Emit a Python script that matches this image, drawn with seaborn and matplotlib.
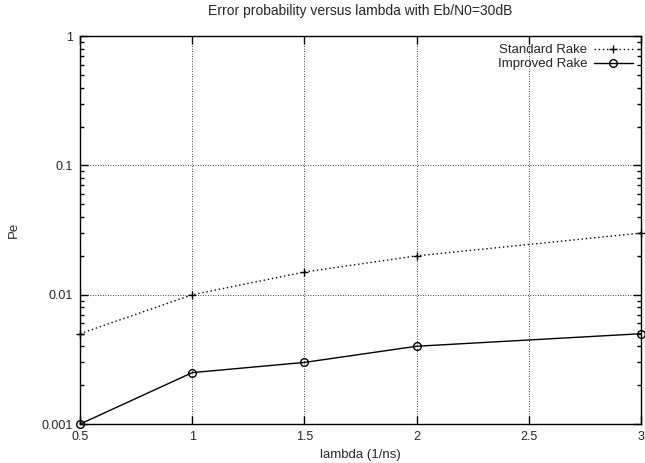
import matplotlib
matplotlib.use("Agg")
import matplotlib.pyplot as plt
import seaborn as sns
import pandas as pd
from matplotlib.ticker import LogLocator, FixedLocator, FixedFormatter

lam = [0.5, 1.0, 1.5, 2.0, 3.0]
pe_standard = [0.005, 0.01, 0.015, 0.02, 0.03]
pe_improved = [0.001, 0.0025, 0.003, 0.004, 0.005]
x_ticks = [0.5, 1, 1.5, 2, 2.5, 3]
x_labels = ["0.5", "1", "1.5", "2", "2.5", "3"]
y_ticks = [0.001, 0.01, 0.1, 1]
y_labels = ["0.001", "0.01", "0.1", "1"]

sns.set_style("ticks")
plt.rcParams["font.family"] = ["Liberation Sans", "DejaVu Sans"]

df = pd.DataFrame({"lambda": lam, "standard": pe_standard, "improved": pe_improved})

fig = plt.figure(figsize=(6.45, 4.63), dpi=100)
ax = fig.add_axes([0.124, 0.084, 0.87, 0.838])

sns.lineplot(data=df, x="lambda", y="standard", ax=ax, color="black", lw=1.0,
             linestyle=(0, (1, 2)), marker="+", markersize=6, markeredgewidth=1.0,
             markeredgecolor="black", label="Standard Rake", clip_on=False)
sns.lineplot(data=df, x="lambda", y="improved", ax=ax, color="black", lw=1.0,
             marker="o", markersize=5.5, markerfacecolor="none", markeredgecolor="black",
             markeredgewidth=1.0, label="Improved Rake", clip_on=False)

ax.set_yscale("log")
ax.set_xlim(0.5, 3)
ax.set_ylim(0.001, 1)
ax.xaxis.set_major_locator(FixedLocator(x_ticks))
ax.xaxis.set_major_formatter(FixedFormatter(x_labels))
ax.yaxis.set_major_locator(FixedLocator(y_ticks))
ax.yaxis.set_major_formatter(FixedFormatter(y_labels))
ax.yaxis.set_minor_locator(LogLocator(base=10, subs=range(2, 10)))
ax.yaxis.set_minor_formatter(plt.NullFormatter())

ax.tick_params(which="both", direction="in", top=True, right=True, labelsize=9,
               color="black", width=1.0)
ax.tick_params(which="major", length=6, pad=5)
ax.tick_params(which="minor", length=3)
ax.grid(True, which="major", color="black", linestyle=(0, (1, 2)), lw=0.6)
for s in ax.spines.values():
    s.set_color("black")
    s.set_linewidth(1.0)

ax.set_xlabel("lambda (1/ns)", fontsize=9.5)
ax.set_ylabel("Pe", fontsize=9.5)
ax.yaxis.set_label_coords(-0.108, 0.5)
ax.set_title("Error probability versus lambda with Eb/N0=30dB", fontsize=10, pad=15)

ax.legend(loc="upper right", frameon=False, markerfirst=False, fontsize=9.5,
          handlelength=3.0, borderaxespad=0.2, labelspacing=0.15, handletextpad=0.5)

fig.savefig("out.png", dpi=100)
